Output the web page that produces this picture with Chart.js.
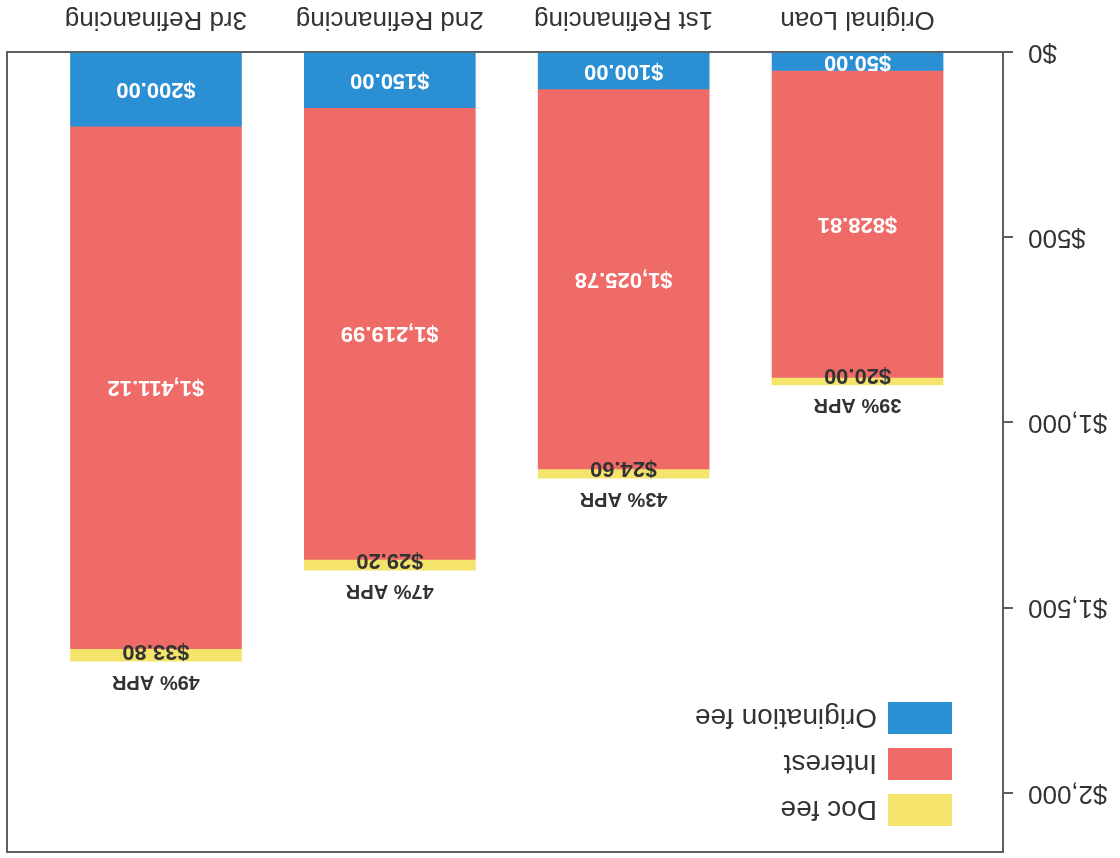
<!DOCTYPE html>
<html>
<head>
<meta charset="utf-8">
<script src="https://cdn.jsdelivr.net/npm/chart.js@4.4.1/dist/chart.umd.min.js"></script>
<style>
html, body { margin: 0; padding: 0; background: #ffffff; }
#wrap { width: 1120px; height: 858px; transform: rotate(180deg); transform-origin: 50% 50%; }
canvas { display: block; }
</style>
</head>
<body>
<div id="wrap"><canvas id="c" width="1120" height="858"></canvas></div>
<script>
// ---- data ----
const categories = ['Original Loan', '1st Refinancing', '2nd Refinancing', '3rd Refinancing'];
const originationFee = [50.00, 100.00, 150.00, 200.00];
const interest = [828.81, 1025.78, 1219.99, 1411.12];
const docFee = [20.00, 24.60, 29.20, 33.80];
const aprLabels = ['39% APR', '43% APR', '47% APR', '49% APR'];
const yTicks = [0, 500, 1000, 1500, 2000];
const seriesNames = ['Origination fee', 'Interest', 'Doc fee'];

// ---- styles ----
const FONT = "'Liberation Sans', Arial, Helvetica, sans-serif";
const COLORS = ['#2b8fd3', '#ee6b68', '#f4e46c'];
const LABEL_COLORS = ['#ffffff', '#ffffff', '#333333'];
const AXIS_COLOR = '#5e5e5e';
const TEXT_COLOR = '#333333';
const X_MIN = -0.622, X_MAX = 3.637, Y_MAX = 2160;

Chart.defaults.font.family = FONT;

function money(v) {
  return '$' + v.toLocaleString('en-US', { minimumFractionDigits: 2, maximumFractionDigits: 2 });
}
function points(arr) {
  return arr.map((v, i) => ({ x: i, y: v }));
}

const seriesValues = [originationFee, interest, docFee];

const datasets = seriesValues.map((vals, k) => ({
  label: seriesNames[k],
  data: points(vals),
  backgroundColor: COLORS[k],
  borderWidth: 0,
  barThickness: 171,
  grouped: false
}));

const framePlugin = {
  id: 'frame',
  afterDraw(chart) {
    const { ctx, chartArea: a } = chart;
    ctx.save();
    ctx.strokeStyle = AXIS_COLOR;
    ctx.lineWidth = 2;
    ctx.beginPath();
    ctx.moveTo(a.left, a.top);
    ctx.lineTo(a.right, a.top);
    ctx.lineTo(a.right, a.bottom);
    ctx.stroke();
    ctx.restore();
  }
};

const labelPlugin = {
  id: 'barLabels',
  afterDatasetsDraw(chart) {
    const ctx = chart.ctx;
    ctx.save();
    ctx.textAlign = 'center';
    ctx.textBaseline = 'middle';
    chart.data.datasets.forEach((ds, k) => {
      const meta = chart.getDatasetMeta(k);
      meta.data.forEach((el, i) => {
        const v = seriesValues[k][i];
        ctx.fillStyle = LABEL_COLORS[k];
        ctx.font = 'bold 22px ' + FONT;
        let y;
        if (k === 2) {
          y = el.y + 10;
        } else {
          y = (el.y + el.base) / 2;
        }
        ctx.fillText(money(v), el.x, y);
        if (k === 2) {
          ctx.fillStyle = TEXT_COLOR;
          ctx.font = 'bold 20px ' + FONT;
          ctx.fillText(aprLabels[i], el.x, el.y - 20);
        }
      });
    });
    ctx.restore();
  }
};

const legendPlugin = {
  id: 'innerLegend',
  afterDraw(chart) {
    const { ctx, chartArea: a } = chart;
    ctx.save();
    ctx.textAlign = 'left';
    ctx.textBaseline = 'middle';
    ctx.font = '28px ' + FONT;
    const order = [2, 1, 0];
    order.forEach((k, row) => {
      const cy = a.top + 42 + row * 46;
      ctx.fillStyle = chart.data.datasets[k].backgroundColor;
      ctx.fillRect(a.left + 51, cy - 16, 64, 32);
      ctx.fillStyle = TEXT_COLOR;
      ctx.fillText(chart.data.datasets[k].label, a.left + 126, cy + 1);
    });
    ctx.restore();
  }
};

new Chart(document.getElementById('c'), {
  type: 'bar',
  data: { datasets },
  options: {
    responsive: false,
    animation: false,
    events: [],
    layout: { padding: { top: 6, right: 7, left: 0, bottom: 0 } },
    plugins: {
      legend: { display: false },
      tooltip: { enabled: false }
    },
    scales: {
      x: {
        type: 'linear',
        position: 'bottom',
        offset: false,
        bounds: 'data',
        min: X_MIN,
        max: X_MAX,
        afterDataLimits: (s) => { s.min = X_MIN; s.max = X_MAX; },
        afterBuildTicks: (s) => { s.ticks = categories.map((c, i) => ({ value: i })); s.min = X_MIN; s.max = X_MAX; },
        afterFit: (s) => { s.height = 52; s.paddingLeft = 0; s.paddingRight = 0; },
        ticks: {
          callback: (v) => categories[v],
          font: { size: 26 },
          color: TEXT_COLOR,
          padding: 17,
          autoSkip: false,
          maxRotation: 0
        },
        grid: { display: true, drawOnChartArea: false, drawTicks: false, offset: false },
        border: { display: true, color: AXIS_COLOR, width: 2 }
      },
      y: {
        min: 0,
        max: Y_MAX,
        stacked: true,
        afterBuildTicks: (s) => { s.ticks = yTicks.map(v => ({ value: v })); s.min = 0; s.max = Y_MAX; },
        afterFit: (s) => { s.width = 117; s.paddingTop = 0; s.paddingBottom = 0; },
        ticks: {
          callback: (v) => '$' + v.toLocaleString('en-US'),
          font: { size: 26 },
          color: TEXT_COLOR,
          padding: 15
        },
        grid: { display: true, drawOnChartArea: false, drawTicks: true, tickLength: 10, color: AXIS_COLOR, lineWidth: 2 },
        border: { display: true, color: AXIS_COLOR, width: 2 }
      }
    }
  },
  plugins: [framePlugin, labelPlugin, legendPlugin]
});
</script>
</body>
</html>
